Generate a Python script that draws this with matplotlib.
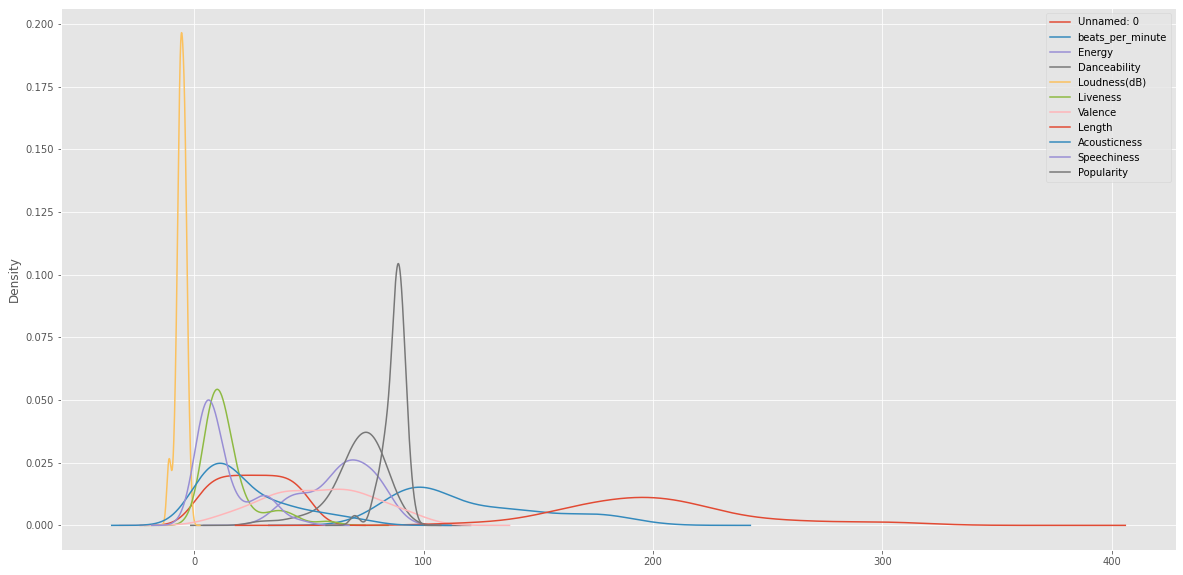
import numpy as np
import pandas as pd
import matplotlib
matplotlib.use('Agg')
import matplotlib.pyplot as plt

# Spotify top 50 (2019), numeric columns
unnamed_0 = [1, 2, 3, 4, 5, 6, 7, 8, 9, 10, 11, 12, 13, 14, 15, 16, 17, 18, 19, 20,
             21, 22, 23, 24, 25, 26, 27, 28, 29, 30, 31, 32, 33, 34, 35, 36, 37, 38, 39, 40,
             41, 42, 43, 44, 45, 46, 47, 48, 49, 50]
beats_per_minute = [117, 105, 190, 93, 150, 102, 180, 111, 136, 135, 176, 96, 110, 176, 101, 93, 176,
                    90, 130, 158, 124, 154, 92, 92, 135, 124, 98, 96, 94, 93, 85, 140, 96, 98, 100,
                    114, 176, 152, 138, 95, 104, 85, 96, 136, 98, 88, 176, 100, 104, 95]
energy = [55, 81, 80, 65, 65, 68, 64, 68, 62, 43, 62, 71, 41, 79, 50, 45, 65, 48, 39, 62, 74, 59,
          79, 78, 45, 82, 59, 46, 86, 79, 51, 32, 71, 59, 88, 72, 70, 82, 73, 56, 68, 68, 39, 40,
          69, 62, 75, 79, 70, 79]
danceability = [76, 79, 40, 64, 58, 80, 75, 48, 88, 70, 61, 82, 50, 73, 83, 70, 75, 76, 84, 72, 68,
                70, 81, 80, 67, 69, 82, 73, 74, 64, 29, 78, 78, 80, 77, 66, 75, 72, 84, 81, 69, 77,
                57, 90, 88, 66, 67, 69, 59, 75]
loudness = [-6, -4, -4, -8, -4, -5, -6, -5, -6, -11, -5, -4, -6, -2, -4, -7, -6, -6, -8, -3, -7, -6,
            -4, -4, -11, -4, -6, -7, -3, -4, -8, -11, -5, -7, -5, -7, -5, -5, -5, -6, -7, -6, -6,
            -9, -4, -2, -4, -3, -6, -6]
liveness = [8, 8, 16, 8, 11, 9, 7, 8, 11, 10, 24, 15, 11, 6, 12, 16, 11, 7, 14, 12, 7, 12, 9, 44,
            12, 13, 18, 19, 6, 36, 10, 9, 9, 13, 32, 14, 11, 36, 11, 6, 10, 7, 23, 6, 5, 58, 8, 17,
            41, 7]
valence = [75, 61, 70, 55, 18, 84, 23, 35, 64, 56, 24, 38, 45, 76, 10, 14, 43, 91, 50, 41, 63, 48,
           58, 80, 68, 87, 54, 40, 66, 94, 36, 33, 68, 18, 39, 32, 62, 91, 95, 68, 40, 73, 32, 35,
           75, 44, 80, 67, 50, 61]
length = [191, 302, 186, 198, 175, 220, 131, 202, 157, 194, 251, 185, 182, 288, 205, 261, 243, 158,
          161, 173, 153, 115, 309, 266, 195, 191, 210, 213, 193, 222, 210, 179, 176, 200, 224, 164,
          226, 162, 181, 199, 228, 171, 216, 198, 162, 182, 202, 214, 218, 206]
acousticness = [4, 8, 12, 12, 45, 9, 2, 15, 5, 33, 60, 28, 75, 7, 10, 12, 15, 56, 18, 11, 4, 34, 14,
                36, 25, 49, 69, 37, 11, 3, 12, 59, 22, 2, 19, 18, 14, 13, 4, 48, 2, 1, 37, 5, 39, 7,
                24, 19, 23, 21]
speechiness = [3, 9, 46, 19, 7, 4, 29, 9, 10, 38, 31, 7, 3, 20, 5, 15, 32, 5, 8, 11, 3, 8, 7, 4, 30,
               6, 10, 3, 6, 25, 4, 33, 28, 15, 6, 6, 34, 5, 6, 7, 3, 5, 3, 13, 12, 5, 6, 5, 3, 12]
popularity = [79, 92, 85, 86, 94, 84, 92, 90, 87, 95, 93, 86, 88, 87, 92, 82, 90, 91, 88, 91, 91, 91,
              83, 91, 89, 70, 83, 89, 91, 89, 84, 89, 89, 89, 89, 89, 91, 87, 80, 78, 88, 90, 87,
              84, 88, 88, 88, 88, 88, 82]

df = pd.DataFrame({
    'Unnamed: 0': unnamed_0,
    'beats_per_minute': beats_per_minute,
    'Energy': energy,
    'Danceability': danceability,
    'Loudness(dB)': loudness,
    'Liveness': liveness,
    'Valence': valence,
    'Length': length,
    'Acousticness': acousticness,
    'Speechiness': speechiness,
    'Popularity': popularity,
})


def gaussian_kde(values, grid):
    # Scott's rule, same as scipy's default
    values = np.asarray(values, dtype=float)
    n = len(values)
    bw = values.std(ddof=1) * n ** (-1 / 5)
    z = (grid[:, None] - values[None, :]) / bw
    return np.exp(-0.5 * z ** 2).sum(axis=1) / (n * bw * np.sqrt(2 * np.pi))


plt.style.use('ggplot')
fig = plt.figure(figsize=(1183 / 72, 575 / 72), dpi=72)
ax = fig.add_axes([61 / 1183, 25 / 575, 1115 / 1183, 542 / 575])

for col in df.columns:
    y = df[col].values
    lo, hi = y.min(), y.max()
    rng = hi - lo
    grid = np.linspace(lo - 0.5 * rng, hi + 0.5 * rng, 1000)
    ax.plot(grid, gaussian_kde(y, grid), label=col)

ax.set_ylabel('Density')
ax.legend(loc='upper right')

fig.savefig('out.png', dpi=72)
